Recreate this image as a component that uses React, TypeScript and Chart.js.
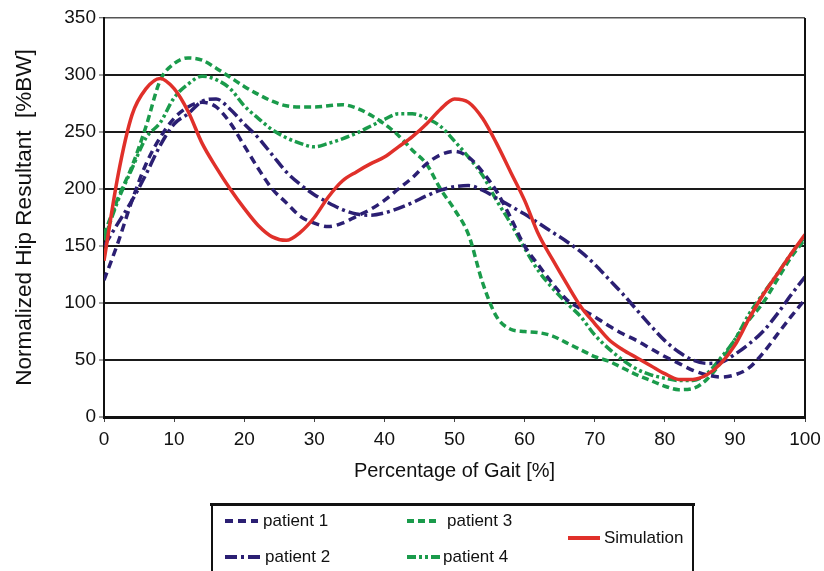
import React, { useEffect, useRef } from 'react';
import { Chart, registerables } from 'chart.js';

Chart.register(...registerables);

const FONT = '"Liberation Sans", Arial, sans-serif';

const gaitPct = [0, 2, 4, 6, 8, 10, 12, 14, 16, 18, 20, 22, 24, 26, 28, 30, 32, 34, 36, 38, 40, 42, 44, 46, 48, 50, 52, 54, 56, 58, 60, 62, 64, 66, 68, 70, 72, 74, 76, 78, 80, 82, 84, 86, 88, 90, 92, 94, 96, 98, 100];

const patient1 = [120, 153, 190, 222, 245, 262, 272, 276, 272, 258, 238, 218, 200, 188, 176, 170, 167, 170, 176, 182, 190, 200, 210, 222, 230, 233, 228, 215, 198, 175, 150, 133, 117, 103, 95, 88, 80, 73, 67, 60, 53, 47, 41, 37, 35, 37, 43, 56, 72, 88, 103];
const patient2 = [150, 170, 190, 213, 238, 257, 266, 277, 279, 270, 257, 245, 230, 215, 204, 195, 188, 182, 178, 177, 179, 183, 188, 194, 199, 202, 203, 199, 192, 185, 178, 170, 162, 154, 145, 134, 121, 108, 94, 80, 67, 57, 50, 47, 48, 55, 64, 75, 90, 107, 123];
const patient3 = [160, 192, 220, 255, 295, 310, 315, 313, 306, 298, 290, 283, 277, 273, 272, 272, 273, 274, 271, 265, 257, 247, 234, 222, 200, 182, 160, 118, 88, 77, 75, 74, 71, 65, 59, 53, 49, 43, 37, 32, 27, 24, 25, 33, 48, 68, 85, 100, 120, 140, 156];
const patient4 = [155, 190, 218, 245, 258, 280, 292, 299, 296, 288, 273, 262, 252, 245, 240, 237, 240, 244, 249, 255, 261, 266, 266, 262, 255, 242, 228, 212, 190, 170, 148, 128, 113, 100, 88, 72, 60, 50, 42, 37, 34, 32, 32, 38, 52, 68, 90, 108, 125, 143, 158];
const simulation = [137, 212, 265, 288, 297, 288, 268, 240, 219, 200, 183, 168, 158, 155, 162, 175, 193, 207, 215, 222, 228, 237, 246, 257, 270, 279, 276, 262, 240, 215, 190, 160, 138, 117, 97, 82, 68, 59, 52, 45, 38, 33, 33, 37, 47, 63, 86, 107, 125, 143, 160];

const seriesNames = ['patient 1', 'patient 2', 'patient 3', 'patient 4', 'Simulation'];
const yTicks = [0, 50, 100, 150, 200, 250, 300, 350];
const xTicks = [0, 10, 20, 30, 40, 50, 60, 70, 80, 90, 100];

const NAVY = '#2B1F73';
const GREEN = '#1A9B4B';
const RED = '#E0302A';

const styles = [
  { color: NAVY, dash: [8, 5], width: 3.5 },
  { color: NAVY, dash: [12, 4, 3, 4], width: 3.5 },
  { color: GREEN, dash: [7, 4], width: 3.5 },
  { color: GREEN, dash: [9, 3, 3, 3, 3, 3], width: 3.5 },
  { color: RED, dash: [], width: 3.5 },
];

const legendPos = [
  { x0: 225, x1: 258, y: 521, tx: 263 },
  { x0: 225, x1: 262, y: 557, tx: 265 },
  { x0: 407, x1: 438, y: 521, tx: 447 },
  { x0: 407, x1: 441, y: 557, tx: 443 },
  { x0: 568, x1: 600, y: 538, tx: 604 },
];

const legendPlugin = {
  id: 'customLegend',
  afterDraw(chart: any) {
    const ctx = chart.ctx;
    const { chartArea } = chart;
    ctx.save();
    ctx.strokeStyle = '#111';
    ctx.lineWidth = 2;
    ctx.setLineDash([]);
    ctx.beginPath();
    ctx.moveTo(chartArea.right, chartArea.top);
    ctx.lineTo(chartArea.right, chartArea.bottom);
    ctx.stroke();
    ctx.lineWidth = 3;
    ctx.beginPath();
    ctx.moveTo(210, 504.5);
    ctx.lineTo(695, 504.5);
    ctx.stroke();
    ctx.lineWidth = 2;
    ctx.beginPath();
    ctx.moveTo(212, 504);
    ctx.lineTo(212, 571);
    ctx.moveTo(693, 504);
    ctx.lineTo(693, 571);
    ctx.stroke();
    ctx.font = '17px ' + FONT;
    ctx.textBaseline = 'middle';
    ctx.textAlign = 'left';
    seriesNames.forEach((name, i) => {
      const p = legendPos[i];
      const s = styles[i];
      ctx.strokeStyle = s.color;
      ctx.lineWidth = 4;
      ctx.setLineDash(s.dash);
      ctx.beginPath();
      ctx.moveTo(p.x0, p.y);
      ctx.lineTo(p.x1, p.y);
      ctx.stroke();
      ctx.setLineDash([]);
      ctx.fillStyle = '#111';
      ctx.fillText(name, p.tx, p.y);
    });
    ctx.restore();
  },
};

export default function App() {
  const ref = useRef<HTMLCanvasElement | null>(null);
  useEffect(() => {
    if (!ref.current) return;
    const seriesValues = [patient1, patient2, patient3, patient4, simulation];
    const datasets = seriesValues.map((vals, i) => ({
      label: seriesNames[i],
      data: vals.map((v, j) => ({ x: gaitPct[j], y: v })),
      borderColor: styles[i].color,
      backgroundColor: styles[i].color,
      borderWidth: styles[i].width,
      borderDash: styles[i].dash,
      pointRadius: 0,
      cubicInterpolationMode: 'monotone' as const,
      fill: false,
    }));
    const ordered = [datasets[4], datasets[0], datasets[1], datasets[2], datasets[3]];
    const chart = new Chart(ref.current, {
      type: 'line',
      data: { datasets: ordered },
      options: {
        responsive: false,
        animation: false,
        layout: { padding: { left: 0, right: 19, top: 18, bottom: 0 } },
        plugins: { legend: { display: false }, tooltip: { enabled: false } },
        scales: {
          x: {
            type: 'linear',
            min: 0,
            max: 100,
            afterBuildTicks: (scale: any) => {
              scale.ticks = xTicks.map((v) => ({ value: v }));
            },
            afterFit: (scale: any) => {
              scale.height = 154;
              scale.paddingLeft = 0;
              scale.paddingRight = 0;
            },
            ticks: { color: '#111', font: { size: 19, family: FONT }, padding: 6, maxRotation: 0 },
            grid: { drawOnChartArea: false, drawTicks: true, tickLength: 5, color: '#444', lineWidth: 1 },
            border: { color: '#111', width: 3 },
            title: {
              display: true,
              text: 'Percentage of Gait [%]',
              color: '#111',
              font: { size: 20, family: FONT },
              padding: { top: 0, bottom: 88 },
            },
          },
          y: {
            min: 0,
            max: 350,
            afterBuildTicks: (scale: any) => {
              scale.ticks = yTicks.map((v) => ({ value: v }));
            },
            afterFit: (scale: any) => {
              scale.width = 104;
              scale.paddingTop = 0;
              scale.paddingBottom = 0;
            },
            ticks: { color: '#111', font: { size: 19, family: FONT }, padding: 3 },
            grid: {
              drawTicks: true,
              tickLength: 5,
              tickColor: '#444',
              tickWidth: 1,
              color: (c: any) => (c.tick && c.tick.value === 0 ? 'rgba(0,0,0,0)' : c.tick && c.tick.value === 350 ? '#555' : '#1a1a1a'),
              lineWidth: (c: any) => (c.tick && c.tick.value === 350 ? 1.5 : 2),
            },
            border: { color: '#111', width: 2 },
            title: {
              display: true,
              text: 'Normalized Hip Resultant  [%BW]',
              color: '#111',
              font: { size: 22.5, family: FONT },
              padding: { top: 11, bottom: 0 },
            },
          },
        },
      },
      plugins: [legendPlugin],
    });
    return () => chart.destroy();
  }, []);
  return (
    <div style={{ position: 'fixed', left: 0, top: 0, width: 824, height: 571, background: '#fff' }}>
      <canvas ref={ref} width={824} height={571} />
    </div>
  );
}
